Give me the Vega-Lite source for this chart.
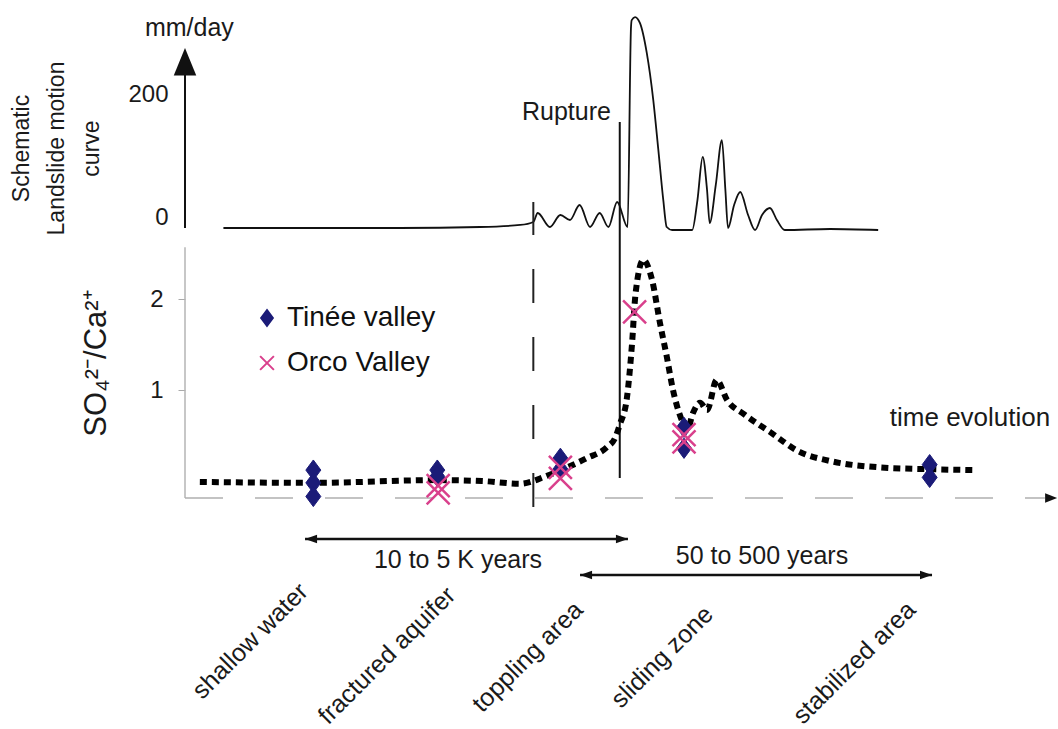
{
  "$schema": "https://vega.github.io/schema/vega-lite/v6.json",
  "width": 873,
  "height": 729,
  "autosize": {"type": "none"},
  "padding": {"left": 185, "top": 0, "right": 0, "bottom": 0},
  "background": "white",
  "config": {
    "view": {"stroke": null},
    "font": "Liberation Sans",
    "text": {"font": "Liberation Sans", "color": "#1a1a1a"},
    "axis": {"labelFont": "Liberation Sans", "titleFont": "Liberation Sans"},
    "legend": {"labelFont": "Liberation Sans"}
  },
  "datasets": {
    "motion": [
      {"x": 4.4, "y": 0}, {"x": 13.2, "y": 0}, {"x": 24.6, "y": 0}, {"x": 33.8, "y": 1.6},
      {"x": 38.4, "y": 4.9}, {"x": 39.9, "y": 9.8}, {"x": 40.4, "y": 24.4}, {"x": 41.8, "y": 1.6},
      {"x": 43.0, "y": 21.1}, {"x": 44.1, "y": 13}, {"x": 45.2, "y": 37.4}, {"x": 46.4, "y": 1.6},
      {"x": 47.5, "y": 24.4}, {"x": 48.5, "y": 1.6}, {"x": 49.5, "y": 42.3}, {"x": 50.7, "y": 1.6},
      {"x": 51.09, "y": 327}, {"x": 51.17, "y": 338}, {"x": 51.55, "y": 343}, {"x": 52.12, "y": 333},
      {"x": 52.89, "y": 285}, {"x": 53.64, "y": 208}, {"x": 54.22, "y": 127}, {"x": 54.79, "y": 45},
      {"x": 55.18, "y": 1.6}, {"x": 55.8, "y": -3.3}, {"x": 58.1, "y": -3.3}, {"x": 58.7, "y": 45.5},
      {"x": 59.3, "y": 115.4}, {"x": 59.8, "y": 61.8}, {"x": 60.1, "y": 8.1}, {"x": 60.8, "y": 70},
      {"x": 61.5, "y": 143}, {"x": 61.9, "y": 61.8}, {"x": 62.2, "y": 0}, {"x": 62.9, "y": 37.4},
      {"x": 63.6, "y": 58.5}, {"x": 64.5, "y": 21.1}, {"x": 65.3, "y": -3.3}, {"x": 66.1, "y": 21.1},
      {"x": 67.0, "y": 32.5}, {"x": 67.8, "y": 13}, {"x": 68.7, "y": -3.3}, {"x": 73.9, "y": -1.6},
      {"x": 79.4, "y": -3.3}
    ],
    "ratio": [
      {"x": 1.7, "y": -0.01}, {"x": 14.7, "y": -0.02}, {"x": 28.9, "y": 0.01}, {"x": 34, "y": 0.0},
      {"x": 38.4, "y": -0.03}, {"x": 39.9, "y": 0.0}, {"x": 41.0, "y": 0.04}, {"x": 43.8, "y": 0.15},
      {"x": 46.0, "y": 0.25}, {"x": 48.3, "y": 0.37}, {"x": 49.3, "y": 0.48}, {"x": 49.8, "y": 0.62},
      {"x": 50.6, "y": 0.9}, {"x": 51.2, "y": 1.5}, {"x": 51.6, "y": 2.05}, {"x": 52.5, "y": 2.43},
      {"x": 53.5, "y": 2.21}, {"x": 54.4, "y": 1.74}, {"x": 55.2, "y": 1.36}, {"x": 55.9, "y": 1.0},
      {"x": 56.9, "y": 0.67}, {"x": 57.5, "y": 0.56}, {"x": 58.2, "y": 0.75}, {"x": 59.0, "y": 0.86},
      {"x": 59.8, "y": 0.78}, {"x": 60.9, "y": 1.11}, {"x": 62.1, "y": 0.89}, {"x": 64.1, "y": 0.73},
      {"x": 67.0, "y": 0.54}, {"x": 70.4, "y": 0.32}, {"x": 73.9, "y": 0.22}, {"x": 79.6, "y": 0.15},
      {"x": 85.3, "y": 0.13}, {"x": 90.7, "y": 0.12}
    ],
    "tinee": [
      {"x": 14.7, "y": 0.12, "series": "Tinée valley"}, {"x": 14.7, "y": -0.02, "series": "Tinée valley"},
      {"x": 14.7, "y": -0.17, "series": "Tinée valley"}, {"x": 28.9, "y": 0.12, "series": "Tinée valley"},
      {"x": 28.9, "y": 0.05, "series": "Tinée valley"}, {"x": 43.0, "y": 0.25, "series": "Tinée valley"},
      {"x": 43.0, "y": 0.13, "series": "Tinée valley"}, {"x": 57.16, "y": 0.59, "series": "Tinée valley"},
      {"x": 57.16, "y": 0.36, "series": "Tinée valley"}, {"x": 85.3, "y": 0.18, "series": "Tinée valley"},
      {"x": 85.3, "y": 0.04, "series": "Tinée valley"}
    ],
    "orco": [
      {"x": 29.0, "y": -0.05, "series": "Orco Valley"}, {"x": 29.0, "y": -0.13, "series": "Orco Valley"},
      {"x": 43.0, "y": 0.15, "series": "Orco Valley"}, {"x": 43.0, "y": 0.03, "series": "Orco Valley"},
      {"x": 51.5, "y": 1.86, "series": "Orco Valley"}, {"x": 57.16, "y": 0.51, "series": "Orco Valley"},
      {"x": 57.16, "y": 0.43, "series": "Orco Valley"}
    ],
    "upperAxis": [{"x": 0, "y": 0, "y2": 255}],
    "upperArrow": [{"x": 0, "y": 292.7}],
    "upperText": [
      {"x": 0.5, "y": 325.2, "label": "mm/day", "kind": "unit"},
      {"x": 38.6, "y": 175.6, "label": "Rupture", "kind": "rupture"}
    ],
    "lowerAxis": [{"x": 0, "y": -0.187, "y2": 2.57}],
    "baseline": [{"x": 0, "x2": 98.5, "y": -0.187}],
    "vlines": [
      {"x": 39.9, "y": -0.286, "y2": 3.066, "kind": "dashed"}
    ],
    "rupture": [{"x": 49.8, "y": 0.033, "y2": 3.945}],
    "spans": [
      {"x": 13.75, "x2": 50.74, "y": -0.637},
      {"x": 45.25, "x2": 85.57, "y": -1.033}
    ],
    "rightHeads": [
      {"x": 50.74, "y": -0.637}, {"x": 85.57, "y": -1.033}
    ],
    "leftHeads": [
      {"x": 13.75, "y": -0.637}, {"x": 45.25, "y": -1.033}
    ],
    "axisHead": [{"x": 99.9, "y": -0.187}],
    "spanText": [
      {"x": 31.27, "y": -0.863, "label": "10 to 5 K years"},
      {"x": 66.09, "y": -0.824, "label": "50 to 500 years"}
    ],
    "timeText": [{"x": 89.92, "y": 0.69, "label": "time evolution"}],
    "stages": [
      {"x": 13.6, "y": -1.17, "label": "shallow water"},
      {"x": 30.5, "y": -1.21, "label": "fractured aquifer"},
      {"x": 45.1, "y": -1.37, "label": "toppling area"},
      {"x": 60.0, "y": -1.42, "label": "sliding zone"},
      {"x": 83.2, "y": -1.37, "label": "stabilized area"}
    ]
  },
  "encoding": {
    "x": {"field": "x", "type": "quantitative", "scale": {"domain": [0, 100], "nice": false, "zero": false}, "axis": null}
  },
  "layer": [
    {
      "encoding": {
        "y": {
          "field": "y", "type": "quantitative",
          "scale": {"domain": [-814.6, 370.7], "nice": false, "zero": false},
          "axis": {
            "orient": "left", "values": [0, 200], "domain": false, "ticks": false, "grid": false,
            "labelFontSize": 24, "labelColor": "#1a1a1a", "labelPadding": 17, "labelOffset": -10,
            "title": ["Schematic", "Landslide motion", "curve"],
            "titleFontSize": 23, "titleFontWeight": "normal", "titleColor": "#1a1a1a",
            "titleAngle": 270, "titleX": -175, "titleY": 148, "titleAlign": "center",
            "titleBaseline": "top", "titleLineHeight": 35
          }
        }
      },
      "layer": [
        {"data": {"name": "motion"}, "mark": {"type": "line", "color": "#111", "strokeWidth": 1.8, "interpolate": "monotone"}},
        {"data": {"name": "upperAxis"}, "mark": {"type": "rule", "color": "#111", "strokeWidth": 2}, "encoding": {"y2": {"field": "y2"}}},
        {"data": {"name": "upperArrow"}, "mark": {"type": "point", "shape": "M0,0L-0.9,2.2L0.9,2.2Z", "size": 625, "filled": true, "color": "#111", "opacity": 1}},
        {"data": {"name": "upperText"}, "transform": [{"filter": "datum.kind === 'unit'"}], "mark": {"type": "text", "fontSize": 25, "align": "center", "baseline": "middle"}, "encoding": {"text": {"field": "label"}}},
        {"data": {"name": "upperText"}, "transform": [{"filter": "datum.kind === 'rupture'"}], "mark": {"type": "text", "fontSize": 25, "align": "left", "baseline": "alphabetic"}, "encoding": {"text": {"field": "label"}}}
      ]
    },
    {
      "encoding": {
        "y": {
          "field": "y", "type": "quantitative",
          "scale": {"domain": [-2.725, 5.286], "nice": false, "zero": false},
          "axis": {
            "orient": "left", "values": [1, 2], "domain": false, "ticks": true, "tickColor": "#aaaaaa",
            "tickSize": 7, "tickWidth": 1, "grid": false,
            "labelFontSize": 24, "labelColor": "#1a1a1a", "labelPadding": 15,
            "title": "SO₄²⁻/Ca²⁺", "titleFontSize": 31, "titleFontWeight": "normal", "titleColor": "#1a1a1a",
            "titleAngle": 270, "titleX": -80, "titleY": 363, "titleAlign": "center", "titleBaseline": "alphabetic"
          }
        }
      },
      "layer": [
        {"data": {"name": "lowerAxis"}, "mark": {"type": "rule", "color": "#b5b5b5", "strokeWidth": 1.5}, "encoding": {"y2": {"field": "y2"}}},
        {"data": {"name": "baseline"}, "mark": {"type": "rule", "color": "#b0b0b0", "strokeWidth": 1.5, "strokeDash": [38, 32]}, "encoding": {"x2": {"field": "x2"}}},
        {"data": {"name": "axisHead"}, "mark": {"type": "point", "shape": "M0,0L-2,-0.8L-2,0.8Z", "size": 144, "filled": true, "color": "#111", "opacity": 1}},
        {"data": {"name": "vlines"}, "mark": {"type": "rule", "color": "#222", "strokeWidth": 2, "strokeDash": [34, 34]}, "encoding": {"y2": {"field": "y2"}}},
        {"data": {"name": "rupture"}, "mark": {"type": "rule", "color": "#111", "strokeWidth": 2}, "encoding": {"y2": {"field": "y2"}}},
        {"data": {"name": "ratio"}, "mark": {"type": "line", "color": "#000", "strokeWidth": 6, "strokeDash": [7, 5], "interpolate": "monotone"}},
        {
          "data": {"name": "tinee"},
          "mark": {"type": "point", "size": 310, "strokeWidth": 1, "opacity": 1},
          "encoding": {
            "shape": {"field": "series", "type": "nominal", "scale": {"domain": ["Tinée valley", "Orco Valley"], "range": ["M0,-1.15L0.85,0L0,1.15L-0.85,0Z", "M-1,-1L1,1M-1,1L1,-1"]},
              "legend": {"orient": "none", "legendX": 68, "legendY": 304, "title": null, "labelFontSize": 28, "labelColor": "#111", "symbolSize": 190, "symbolStrokeWidth": 2, "labelOffset": 6, "rowPadding": 17, "padding": 0}},
            "fill": {"field": "series", "type": "nominal", "scale": {"domain": ["Tinée valley", "Orco Valley"], "range": ["#1b1b78", "transparent"]},
              "legend": {"orient": "none", "legendX": 68, "legendY": 304, "title": null, "labelFontSize": 28, "labelColor": "#111", "symbolSize": 190, "symbolStrokeWidth": 2, "labelOffset": 6, "rowPadding": 17, "padding": 0}},
            "stroke": {"field": "series", "type": "nominal", "scale": {"domain": ["Tinée valley", "Orco Valley"], "range": ["#1b1b78", "#d9408c"]},
              "legend": {"orient": "none", "legendX": 68, "legendY": 304, "title": null, "labelFontSize": 28, "labelColor": "#111", "symbolSize": 190, "symbolStrokeWidth": 2, "labelOffset": 6, "rowPadding": 17, "padding": 0}}
          }
        },
        {
          "data": {"name": "orco"},
          "mark": {"type": "point", "size": 529, "strokeWidth": 2.5, "opacity": 1},
          "encoding": {
            "shape": {"field": "series", "type": "nominal", "scale": {"domain": ["Tinée valley", "Orco Valley"], "range": ["M0,-1.15L0.85,0L0,1.15L-0.85,0Z", "M-1,-1L1,1M-1,1L1,-1"]}},
            "fill": {"field": "series", "type": "nominal", "scale": {"domain": ["Tinée valley", "Orco Valley"], "range": ["#1b1b78", "transparent"]}},
            "stroke": {"field": "series", "type": "nominal", "scale": {"domain": ["Tinée valley", "Orco Valley"], "range": ["#1b1b78", "#d9408c"]}}
          }
        },
        {"data": {"name": "spans"}, "mark": {"type": "rule", "color": "#111", "strokeWidth": 2.5}, "encoding": {"x2": {"field": "x2"}}},
        {"data": {"name": "rightHeads"}, "mark": {"type": "point", "shape": "M0,0L-2,-0.7L-2,0.7Z", "size": 144, "filled": true, "color": "#111", "opacity": 1}},
        {"data": {"name": "leftHeads"}, "mark": {"type": "point", "shape": "M0,0L2,-0.7L2,0.7Z", "size": 144, "filled": true, "color": "#111", "opacity": 1}},
        {"data": {"name": "spanText"}, "mark": {"type": "text", "fontSize": 25, "align": "center", "baseline": "middle"}, "encoding": {"text": {"field": "label"}}},
        {"data": {"name": "timeText"}, "mark": {"type": "text", "fontSize": 26, "align": "center", "baseline": "middle"}, "encoding": {"text": {"field": "label"}}},
        {"data": {"name": "stages"}, "mark": {"type": "text", "fontSize": 25, "align": "right", "baseline": "middle", "angle": -45}, "encoding": {"text": {"field": "label"}}}
      ]
    }
  ],
  "resolve": {"scale": {"y": "independent"}, "axis": {"y": "independent"}}
}
